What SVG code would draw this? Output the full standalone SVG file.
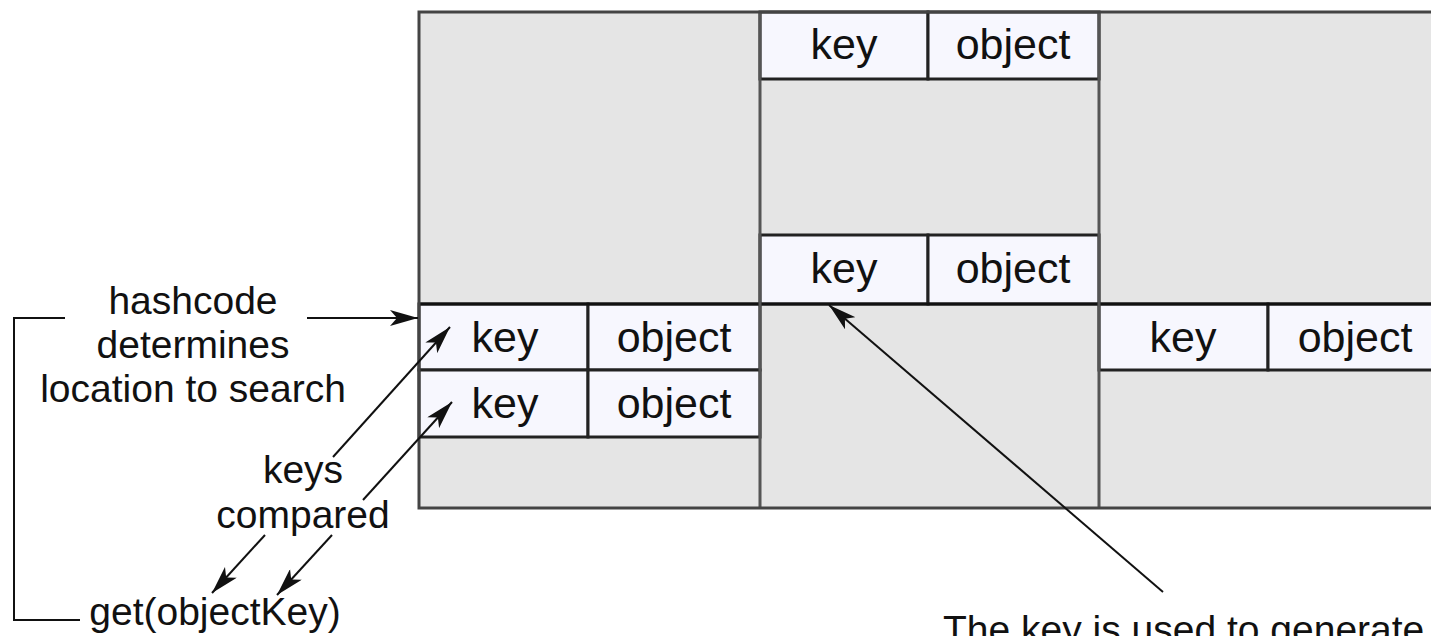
<svg xmlns="http://www.w3.org/2000/svg" width="1431" height="636" viewBox="0 0 1431 636">
<style>
.t{font-family:"Liberation Sans",Arial,sans-serif;fill:#111;text-anchor:middle}
.cell text{font-size:43px}
.lbl{font-size:39px}
.kc{fill:#f7f7fe;stroke:#222;stroke-width:3}
.ln{stroke:#111;stroke-width:2;fill:none}
</style>
<defs>
<marker id="ah" viewBox="0 0 28 16" refX="28" refY="8" markerWidth="28" markerHeight="16" markerUnits="userSpaceOnUse" orient="auto">
<path d="M0,0 L28,8 L0,16 L7,8 z" fill="#111"/>
</marker>
</defs>
<rect width="1431" height="636" fill="#fff"/>
<g id="table">
<rect x="419" y="12" width="1021" height="496" fill="#e5e5e5"/>
</g>
<g id="cell-left-1" class="cell t">
<rect class="kc" x="419" y="304" width="169" height="66"/>
<rect class="kc" x="588" y="304" width="172" height="66"/>
<text x="505" y="352">key</text><text x="674" y="352">object</text>
</g>
<g id="cell-left-2" class="cell t">
<rect class="kc" x="419" y="370" width="169" height="67"/>
<rect class="kc" x="588" y="370" width="172" height="67"/>
<text x="505" y="418">key</text><text x="674" y="418">object</text>
</g>
<g id="cell-mid-1" class="cell t">
<rect class="kc" x="760" y="12" width="168" height="67"/>
<rect class="kc" x="928" y="12" width="171" height="67"/>
<text x="844" y="59">key</text><text x="1013" y="59">object</text>
</g>
<g id="cell-mid-2" class="cell t">
<rect class="kc" x="760" y="235" width="168" height="69"/>
<rect class="kc" x="928" y="235" width="171" height="69"/>
<text x="844" y="283">key</text><text x="1013" y="283">object</text>
</g>
<g id="cell-right-1" class="cell t">
<rect class="kc" x="1099" y="304" width="169" height="66"/>
<rect class="kc" x="1268" y="304" width="172" height="66"/>
<text x="1183" y="352">key</text><text x="1355" y="352">object</text>
</g>
<g id="table-frame">
<line x1="419" y1="304" x2="1440" y2="304" stroke="#111" stroke-width="3"/>
<line x1="760" y1="12" x2="760" y2="508" stroke="#555" stroke-width="3"/>
<line x1="1099" y1="12" x2="1099" y2="508" stroke="#555" stroke-width="3"/>
<rect x="419" y="12" width="1021" height="496" fill="none" stroke="#444" stroke-width="3"/>
</g>
<g id="labels" class="t lbl">
<text class="t lbl" x="193" y="314">hashcode</text>
<text class="t lbl" x="193" y="358">determines</text>
<text class="t lbl" x="193" y="402">location to search</text>
<text class="t lbl" x="303" y="483">keys</text>
<text class="t lbl" x="303" y="528">compared</text>
<text class="t lbl" x="215" y="625">get(objectKey)</text>
<text class="t lbl" x="943" y="643" style="text-anchor:start">The key is used to generate</text>
</g>
<g id="connectors">
<polyline class="ln" points="65,318 14,318 14,620 80,620"/>
<line class="ln" x1="307" y1="318" x2="418" y2="318" marker-end="url(#ah)"/>
<line class="ln" x1="333" y1="457" x2="450" y2="327" marker-end="url(#ah)"/>
<line class="ln" x1="363" y1="500" x2="452" y2="402" marker-end="url(#ah)"/>
<line class="ln" x1="265" y1="535" x2="212" y2="593" marker-end="url(#ah)"/>
<line class="ln" x1="332" y1="535" x2="277" y2="595" marker-end="url(#ah)"/>
<line class="ln" x1="1163" y1="592" x2="829" y2="305" marker-end="url(#ah)"/>
</g>
</svg>
